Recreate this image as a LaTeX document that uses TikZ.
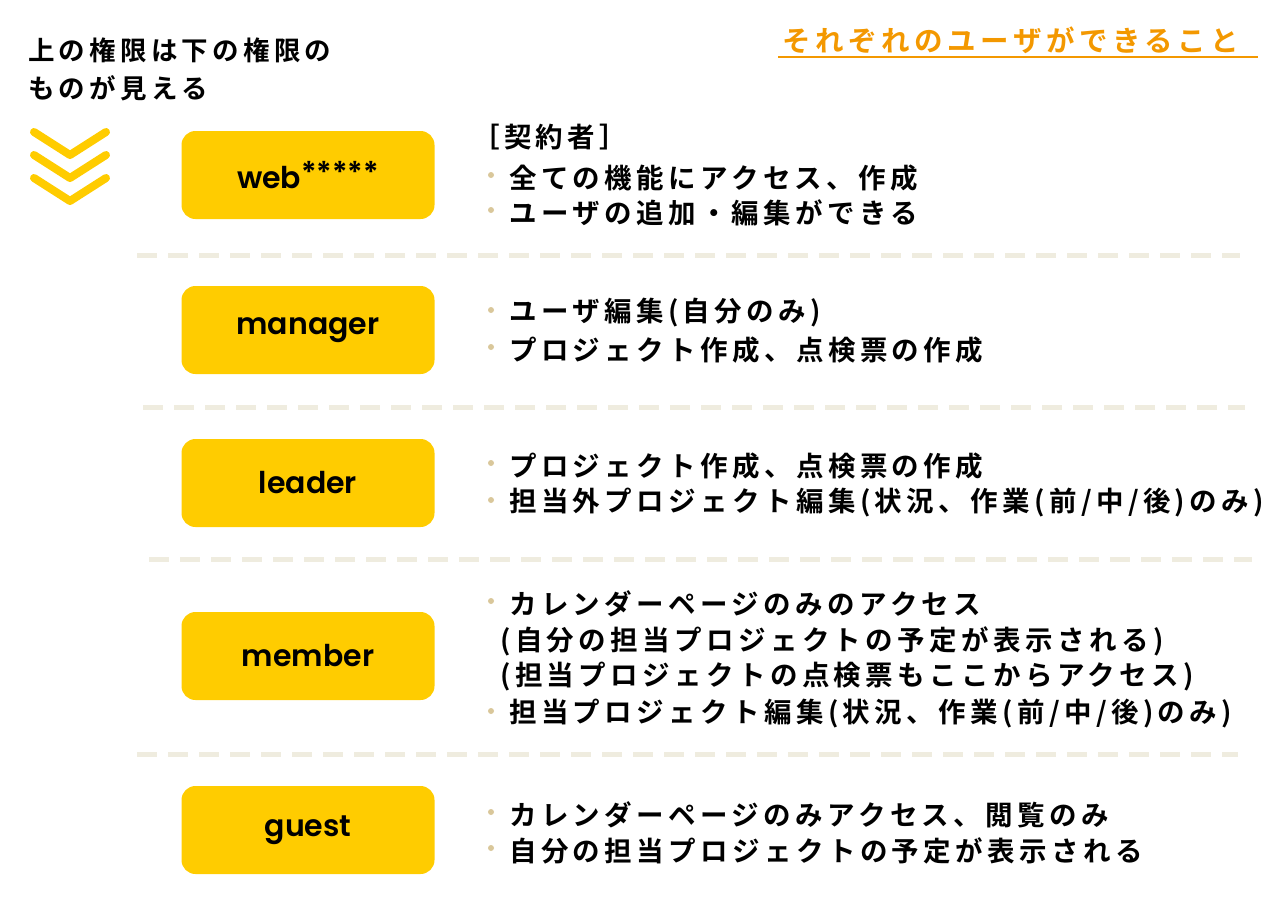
\documentclass[tikz,border=0pt]{standalone}
\usepackage{fontspec}
\setmainfont{Noto Sans CJK JP Bold}[LetterSpace=16]
\newfontfamily\pop{Poppins}[UprightFont=* SemiBold,BoldFont=* Bold]
\begin{document}
\begin{tikzpicture}[x=1pt,y=-1pt,
  rolebox/.style={fill=boxyellow,rounded corners=14pt,minimum width=253pt,minimum height=88pt,inner sep=0pt,font=\pop\fontsize{30}{30}\selectfont},
  txt/.style={anchor=west,inner sep=0pt,font=\fontsize{27.5}{30}\selectfont},
  sep/.style={line width=5pt,draw=sepc,dash pattern=on 20pt off 11pt},
  dotc/.style={fill=dotcol,draw=none}]
\definecolor{boxyellow}{HTML}{FFCC00}
\definecolor{sepc}{HTML}{EFECDF}
\definecolor{dotcol}{HTML}{D9C79A}
\definecolor{orangec}{HTML}{F39800}
\useasboundingbox (0,0) rectangle (1280,905);
\node[txt,font=\fontsize{26.5}{30}\selectfont] (h1) at (28,50) {上の権限は下の権限の};
\node[txt,font=\fontsize{26.5}{30}\selectfont] (h2) at (28,88) {ものが見える};
\foreach \i in {0,1,2}{
  \draw[boxyellow,line width=8pt,line cap=round,line join=round] (34,{132+\i*23}) -- (70,{155+\i*23}) -- (106,{132+\i*23});
}
\node[txt,text=orangec,font=\fontsize{28.5}{30}\selectfont] (t) at (782,40) {それぞれのユーザができること};
\draw[orangec,line width=1.2pt] (778,57) coordinate (u1) -- (1258,57) coordinate (u2);
\node[rolebox] (b1) at (308,175) {web\raisebox{0.35ex}{*****}};
\node[rolebox] (b2) at (308,330) {manager};
\node[rolebox] (b3) at (308,483) {leader};
\node[rolebox] (b4) at (308,656) {member};
\node[rolebox] (b5) at (308,830) {guest};
\draw[sep] (137,255) coordinate (s1a) -- (1240,255) coordinate (s1b);
\draw[sep] (143,407) coordinate (s2a) -- (1245,407) coordinate (s2b);
\draw[sep] (149,559) coordinate (s3a) -- (1252,559) coordinate (s3b);
\draw[sep] (137,754) coordinate (s4a) -- (1238,754) coordinate (s4b);
\node[txt] (l0) at (472,137) {［契約者］};
\foreach \y/\t/\n in {178/{全ての機能にアクセス、作成}/a1,213/{ユーザの追加・編集ができる}/a2,
  313/{ユーザ編集(自分のみ)}/a3,350/{プロジェクト作成、点検票の作成}/a4,
  466/{プロジェクト作成、点検票の作成}/a5,503/{担当外プロジェクト編集(状況、作業(前/中/後)のみ)}/a6,
  604/{カレンダーページのみのアクセス}/a7,714/{担当プロジェクト編集(状況、作業(前/中/後)のみ)}/a8,
  815/{カレンダーページのみアクセス、閲覧のみ}/a9,851/{自分の担当プロジェクトの予定が表示される}/a10}{
  \fill[dotc] (491,{\y-3}) circle (3pt);
  \node[txt] (\n) at (509,\y) {\t};
}
\node[txt] (m2) at (500,641) {(自分の担当プロジェクトの予定が表示される)};
\node[txt] (m3) at (500,677) {(担当プロジェクトの点検票もここからアクセス)};
\end{tikzpicture}
\end{document}
